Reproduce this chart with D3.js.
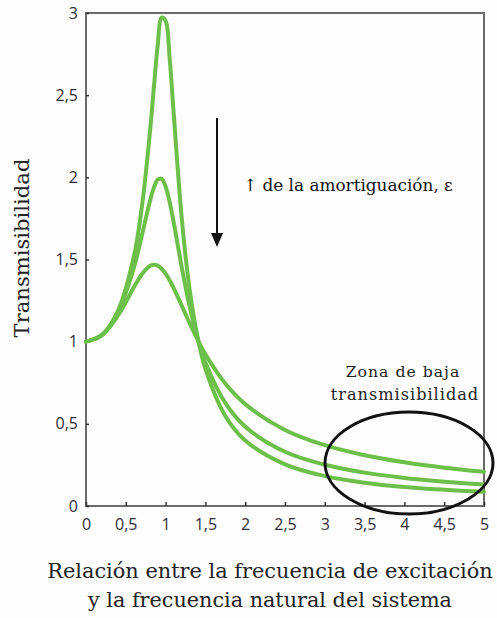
<!DOCTYPE html>
<html><head><meta charset="utf-8">
<script src="https://cdn.jsdelivr.net/npm/d3@7"></script>
<style>body{margin:0;background:#fdfdfd;}svg{display:block;}</style>
</head><body>
<script>
const ratios = [0, 0.2, 0.4, 0.6, 0.7, 0.8, 0.85, 0.9, 0.95, 1.0, 1.05, 1.1, 1.2, 1.3, 1.4, 1.5, 1.75, 2, 2.5, 3, 3.5, 4, 4.5, 5];
const lowDamping = [1, 1.041, 1.186, 1.515, 1.813, 2.257, 2.532, 2.799, 2.972, 2.952, 2.730, 2.400, 1.767, 1.324, 1.033, 0.835, 0.548, 0.399, 0.253, 0.182, 0.142, 0.116, 0.099, 0.086];
const midDamping = [1, 1.041, 1.177, 1.447, 1.642, 1.849, 1.933, 1.985, 1.991, 1.944, 1.852, 1.730, 1.460, 1.218, 1.024, 0.873, 0.627, 0.483, 0.330, 0.251, 0.203, 0.171, 0.148, 0.131];
const highDamping = [1, 1.040, 1.158, 1.329, 1.409, 1.460, 1.468, 1.463, 1.444, 1.414, 1.374, 1.328, 1.222, 1.114, 1.014, 0.923, 0.745, 0.620, 0.463, 0.370, 0.309, 0.266, 0.233, 0.208];
const xTicks = [0, 0.5, 1, 1.5, 2, 2.5, 3, 3.5, 4, 4.5, 5];
const yTicks = [0, 0.5, 1, 1.5, 2, 2.5, 3];
const fmt = v => String(v).replace('.', ',');

const W = 497, H = 618;
const svg = d3.select('body').append('svg').attr('width', W).attr('height', H);
const x = d3.scaleLinear().domain([0, 5]).range([86, 484]);
const y = d3.scaleLinear().domain([0, 3]).range([506, 13]);
const axisColor = '#6a6a6a';
const tickFont = '"Open Sans", "Liberation Sans", sans-serif';
const serif = '"DejaVu Serif", "Liberation Serif", serif';

function fit(sel, target) {
  const w = sel.node().getComputedTextLength();
  const fs = parseFloat(sel.attr('font-size'));
  sel.attr('font-size', (fs * target / w).toFixed(2));
  return sel;
}

// frame
svg.append('rect').attr('x', x(0)).attr('y', y(3)).attr('width', x(5) - x(0)).attr('height', y(0) - y(3))
  .attr('fill', 'none').attr('stroke', axisColor).attr('stroke-width', 2);

// x axis ticks (inward) and labels
const gx = svg.append('g').attr('transform', `translate(0,${y(0)})`)
  .call(d3.axisBottom(x).tickValues(xTicks).tickSize(-4).tickPadding(13).tickFormat(fmt));
gx.select('.domain').remove();
gx.selectAll('line').attr('stroke', '#333').attr('stroke-width', 1.5);
gx.selectAll('text').attr('font-family', tickFont).attr('font-size', 16).attr('fill', '#2e2e38');

// y axis ticks (inward) and labels
const gy = svg.append('g').attr('transform', `translate(${x(0)},0)`)
  .call(d3.axisLeft(y).tickValues(yTicks).tickSize(-3).tickPadding(8).tickFormat(fmt));
gy.select('.domain').remove();
gy.selectAll('line').attr('stroke', '#333').attr('stroke-width', 1.5);
gy.selectAll('text').attr('font-family', tickFont).attr('font-size', 16).attr('fill', '#2e2e38');

// curves
const line = d3.line().x((d, i) => x(ratios[i])).y(d => y(d)).curve(d3.curveCatmullRom.alpha(0.5));
[lowDamping, midDamping, highDamping].forEach(s => {
  svg.append('path').attr('d', line(s)).attr('fill', 'none')
    .attr('stroke', '#6cc04a').attr('stroke-width', 4).attr('stroke-linecap', 'round');
});

// arrow
svg.append('line').attr('x1', 217).attr('x2', 217).attr('y1', 118).attr('y2', 236)
  .attr('stroke', '#111').attr('stroke-width', 2);
svg.append('path').attr('d', d3.line()([[211, 233], [223, 233], [217, 247]])).attr('fill', '#111');

fit(svg.append('text').attr('x', 243).attr('y', 191).attr('font-family', serif).attr('font-size', 14)
  .attr('fill', '#111').text('↑ de la amortiguación, ε'), 210);

// low transmissibility zone
svg.append('ellipse').attr('cx', 409).attr('cy', 463).attr('rx', 84).attr('ry', 51)
  .attr('fill', 'none').attr('stroke', '#111').attr('stroke-width', 3);
fit(svg.append('text').attr('x', 403).attr('y', 377).attr('text-anchor', 'middle').attr('font-family', serif)
  .attr('font-size', 14).attr('letter-spacing', 1).attr('fill', '#222').text('Zona de baja'), 116);
fit(svg.append('text').attr('x', 405).attr('y', 400).attr('text-anchor', 'middle').attr('font-family', serif)
  .attr('font-size', 14).attr('letter-spacing', 1).attr('fill', '#222').text('transmisibilidad'), 151);

// axis titles
fit(svg.append('text').attr('transform', 'translate(29,248) rotate(-90)').attr('text-anchor', 'middle')
  .attr('font-family', serif).attr('font-size', 18).attr('fill', '#222').text('Transmisibilidad'), 179);
fit(svg.append('text').attr('x', 270).attr('y', 578).attr('text-anchor', 'middle').attr('font-family', serif)
  .attr('font-size', 18).attr('fill', '#222').text('Relación entre la frecuencia de excitación'), 446);
fit(svg.append('text').attr('x', 270).attr('y', 607).attr('text-anchor', 'middle').attr('font-family', serif)
  .attr('font-size', 18).attr('fill', '#222').text('y la frecuencia natural del sistema'), 364);
</script>
</body></html>
